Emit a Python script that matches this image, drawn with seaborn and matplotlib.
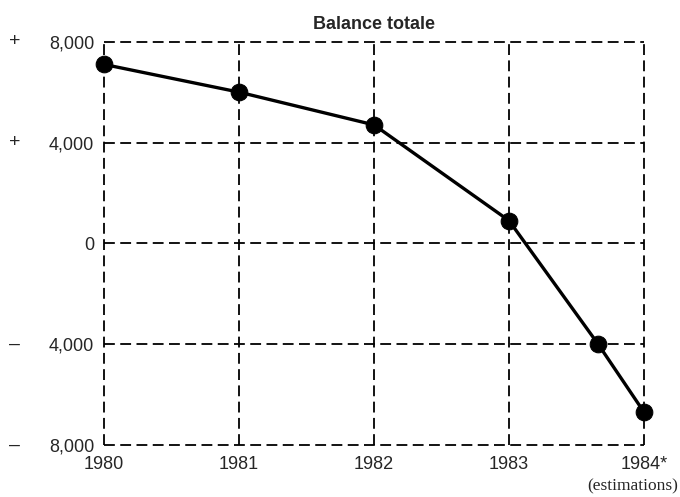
import matplotlib
matplotlib.use("Agg")
import matplotlib.pyplot as plt
import matplotlib.transforms as mtransforms
import seaborn as sns
import pandas as pd

# data (balance in millions)
years = [1980, 1981, 1982, 1983, 1983.66, 1984]
balance = [7100, 6000, 4700, 900, -4000, -6700]
year_ticks = [1980, 1981, 1982, 1983, 1984]
year_labels = ["1980", "1981", "1982", "1983", "1984*"]
y_ticks = [8000, 4000, 0, -4000, -8000]
y_labels = ["8,000", "4,000", "0", "4,000", "8,000"]
y_signs = ["+", "+", "", "\u2013", "\u2013"]

df = pd.DataFrame({"year": years, "balance": balance})

sns.set_style("white")
plt.rcParams["font.family"] = ["Liberation Sans", "DejaVu Sans"]

fig = plt.figure(figsize=(6.8, 4.97), dpi=100)
ax = fig.add_axes([0.153, 0.105, 0.794, 0.811])

sns.lineplot(data=df, x="year", y="balance", ax=ax, color="black",
             linewidth=2.4, marker="o", markersize=12,
             markeredgecolor="black", markerfacecolor="black", zorder=5)
for line in ax.lines:
    line.set_clip_on(False)

ax.set_xlim(1980, 1984)
ax.set_ylim(-8000, 8000)
ax.set_xticks(year_ticks)
ax.set_xticklabels(year_labels, fontsize=13)
ax.set_yticks(y_ticks)
ax.set_yticklabels(y_labels, fontsize=13)
ax.tick_params(length=0, pad=7)
ax.tick_params(axis="x", pad=8)
ax.set_xlabel("")
ax.set_ylabel("")

# dashed grid, frame drawn as dashed lines too
for s in ax.spines.values():
    s.set_visible(False)
for v in year_ticks:
    ax.axvline(v, color="black", lw=1.3, ls=(0, (6, 3)), zorder=1, clip_on=False)
for v in y_ticks:
    ax.axhline(v, color="black", lw=1.3, ls=(0, (6, 3)), zorder=1, clip_on=False)

# separate +/- signs to the left of the y labels
trans = mtransforms.blended_transform_factory(ax.transAxes, ax.transData)
for v, s in zip(y_ticks, y_signs):
    if s:
        ax.text(-0.165, v, s, transform=trans, ha="center", va="center", fontsize=14)

ax.set_title("Balance totale", fontsize=13, fontweight="bold", pad=9)

fig.text(0.997, 0.022, "(estimations)", ha="right", va="center",
         fontsize=12.5, family=["Liberation Serif", "DejaVu Serif"])

plt.savefig("out.png", dpi=100)
